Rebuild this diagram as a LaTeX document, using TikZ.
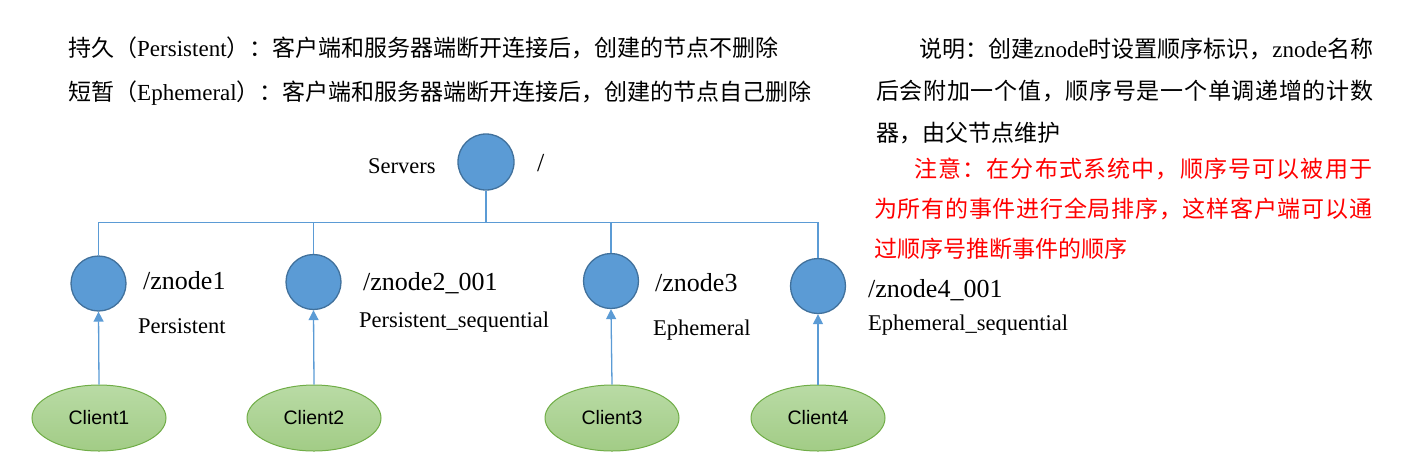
\documentclass[tikz,border=0pt]{standalone}
\usepackage{fontspec}
\setmainfont{Liberation Serif}
\newfontfamily\cjk{Noto Sans CJK SC}
\newfontfamily\lat{Liberation Serif}
\newfontfamily\arialf{Liberation Sans}
\usetikzlibrary{shapes.geometric,arrows.meta}
\newcommand\sprglue{\hskip 0pt plus 1fil minus 1fil\relax}
\ExplSyntaxOn
\NewDocumentCommand\spreadline{m m}{\hbox to #1{\tl_map_inline:nn{#2}{{##1}\sprglue}\unskip}}
\ExplSyntaxOff
\definecolor{nodeblue}{HTML}{5B9BD5}
\definecolor{nodeedge}{HTML}{41719C}
\definecolor{linkblue}{HTML}{5B9BD5}
\definecolor{clitop}{HTML}{B9DBA5}
\definecolor{clibot}{HTML}{A2CC86}
\definecolor{cliedge}{HTML}{70AD47}
\definecolor{notered}{HTML}{FF0000}
\tikzset{
  txt/.style={inner sep=0pt, anchor=base west, font=\fontsize{23}{28}\selectfont},
  lab/.style={inner sep=0pt, anchor=base west, font=\fontsize{26}{30}\selectfont},
  sublab/.style={inner sep=0pt, anchor=base west, font=\fontsize{22.5}{27}\selectfont},
  znodec/.style={circle, draw=nodeedge, line width=1.3pt, fill=nodeblue, minimum size=55pt, inner sep=0pt},
  client/.style={ellipse, draw=cliedge, line width=1pt, top color=clitop, bottom color=clibot,
    minimum width=134pt, minimum height=66pt, inner sep=0pt, font=\arialf\fontsize{19.5}{23}\selectfont},
  tree/.style={draw=linkblue, line width=1.3pt},
  arr/.style={draw=linkblue, line width=1.3pt, -{Triangle[length=10pt,width=10pt]}}
}
\begin{document}
\begin{tikzpicture}[x=1pt,y=-1pt]
\useasboundingbox (0,0) rectangle (1421,467);
% left legend
\node[txt] (t1) at (68,56) {\cjk 持久（{\lat Persistent}）：客户端和服务器端断开连接后，创建的节点不删除};
\node[txt] (t2) at (68,100) {\cjk 短暂（{\lat Ephemeral}）：客户端和服务器端断开连接后，创建的节点自己删除};
% right notes
\node[txt] (r1) at (919,57) {\cjk\spreadline{454pt}{说明：创建{\lat znode}时设置顺序标识，{\lat znode}名称}};
\node[txt] (r2) at (876,99) {\cjk\spreadline{497pt}{后会附加一个值，顺序号是一个单调递增的计数}};
\node[txt] (r3) at (876,141) {\cjk 器，由父节点维护};
\node[txt, text=notered] (r4) at (914,177) {\cjk\spreadline{458pt}{注意：在分布式系统中，顺序号可以被用于}};
\node[txt, text=notered] (r5) at (874,217) {\cjk\spreadline{498pt}{为所有的事件进行全局排序，这样客户端可以通}};
\node[txt, text=notered] (r6) at (874,257) {\cjk 过顺序号推断事件的顺序};
% tree
\node[znodec, minimum size=56pt] (root) at (486,162) {};
\node[sublab] (servers) at (368,173) {Servers};
\node[lab] (slash) at (537,171) {/};
\node[znodec] (z1) at (98.5,283.5) {};
\node[znodec] (z2) at (313.5,282) {};
\node[znodec] (z3) at (611,281) {};
\node[znodec] (z4) at (818,286) {};
\coordinate (bar) at (486,222.5);
\draw[tree] (root.south) -- (bar);
\draw[tree] (z1.north) -- (z1.north |- bar) -- (z4.north |- bar) -- (z4.north);
\draw[tree] (z2.north) -- (z2.north |- bar);
\draw[tree] (z3.north) -- (z3.north |- bar);
\node[lab] (l1) at (143,289) {/znode1};
\node[sublab] (s1) at (138,333) {Persistent};
\node[lab] (l2) at (363,290) {/znode2\_001};
\node[sublab] (s2) at (359,327) {Persistent\_sequential};
\node[lab] (l3) at (655,291) {/znode3};
\node[sublab] (s3) at (653,335) {Ephemeral};
\node[lab] (l4) at (868,297) {/znode4\_001};
\node[sublab] (s4) at (868,330) {Ephemeral\_sequential};
% clients
\node[client] (c1) at (99,418) {Client1};
\node[client] (c2) at (314,418) {Client2};
\node[client] (c3) at (612,418) {Client3};
\node[client] (c4) at (818,418) {Client4};
\draw[arr] (c1.north) -- (z1.south);
\draw[arr] (c2.north) -- (z2.south);
\draw[arr] (c3.north) -- (z3.south);
\draw[arr] (c4.north) -- (z4.south);
\end{tikzpicture}
\end{document}
